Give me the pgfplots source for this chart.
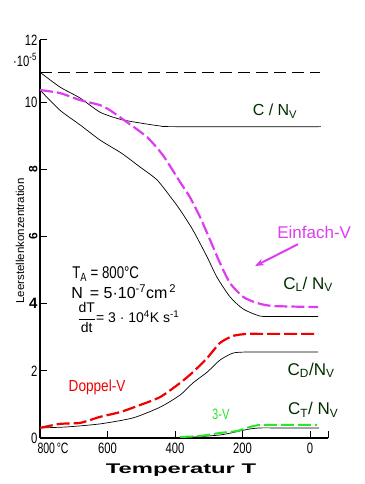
\documentclass[border=0pt]{standalone}
\usepackage{fontspec}
\setmainfont{Liberation Sans}
\usepackage{graphicx}
\usepackage{pgfplots}
\pgfplotsset{compat=1.18}
\usetikzlibrary{arrows.meta}
\definecolor{magv}{RGB}{222,60,240}
\definecolor{redv}{RGB}{240,0,0}
\definecolor{grnv}{RGB}{40,230,40}
\definecolor{dkg}{RGB}{0,45,0}
\newcommand{\nx}[1]{\scalebox{0.75}[1]{#1}}
\begin{document}
\begin{tikzpicture}
\useasboundingbox (-40pt,-46pt) rectangle (324pt,438pt);
\begin{axis}[
  at={(0pt,0pt)}, anchor=south west,
  width=288pt, height=398pt, scale only axis,
  x dir=reverse,
  xmin=-53, xmax=800, ymin=0, ymax=11.85,
  axis x line*=bottom, axis y line*=left,
  axis line style={-, line width=1.6pt},
  tick align=inside, major tick length=7pt,
  tick style={line width=1pt, black},
  xtick={-53,0,200,400,600},
  xticklabels={,\nx{0},\nx{200},\nx{400},\nx{600}},
  extra x ticks={800},
  extra x tick labels={\scalebox{0.7}[1]{800\,°C}},
  extra x tick style={xticklabel style={anchor=north west, xshift=-6pt}},
  xticklabel style={font=\fontsize{15}{15}\selectfont, yshift=-1pt},
  ytick={0,2,4,6,8,10,11.85},
  yticklabels={\nx{0},\nx{2},\textbf{4},\rotatebox{90}{\fontsize{12}{12}\selectfont\textbf{6}},\rotatebox{90}{\fontsize{12}{12}\selectfont\textbf{8}},\nx{10},\nx{12}},
  yticklabel style={font=\fontsize{15}{15}\selectfont, xshift=1pt},
  clip=false,
]
% reference dashed line
\addplot[black, line width=0.7pt, dash pattern=on 12pt off 6pt] coordinates {(800,10.88) (-30,10.88)};
% C / N_V
\addplot[black, line width=0.7pt, smooth, tension=0.4] coordinates {(800,10.89) (741,10.45) (681,10.12) (622,9.70) (563,9.49) (504,9.38) (444,9.29) (400,9.27) (-32,9.27)};
% C_L / N_V
\addplot[black, line width=0.7pt, smooth, tension=0.4] coordinates {(800,10.36) (741,9.76) (681,9.32) (622,8.87) (563,8.51) (542,8.36) (504,8.07) (453,7.68) (406,7.08) (385,6.79) (347,6.19) (305,5.39) (276,4.79) (237,4.20) (198,3.84) (148,3.63) (100,3.62) (-24,3.62)};
% Einfach-V
\addplot[magv, line width=2.2pt, dash pattern=on 13pt off 4pt, smooth, tension=0.4] coordinates {(800,10.36) (741,10.27) (681,10.06) (622,9.91) (593,9.76) (542,9.40) (483,8.96) (436,8.42) (385,7.62) (356,7.17) (326,6.58) (296,5.89) (267,5.21) (237,4.61) (198,4.20) (157,4.02) (110,3.93) (-24,3.90)};
% C_D / N_V
\addplot[black, line width=0.7pt, smooth, tension=0.4] coordinates {(800,0.30) (720,0.33) (622,0.42) (524,0.60) (444,0.92) (385,1.28) (347,1.64) (305,1.96) (267,2.32) (228,2.53) (187,2.56) (140,2.56) (-24,2.56)};
% Doppel-V
\addplot[redv, line width=2.2pt, dash pattern=on 13pt off 4pt, smooth, tension=0.4] coordinates {(800,0.30) (741,0.42) (681,0.45) (622,0.63) (563,0.77) (504,0.98) (444,1.22) (385,1.64) (347,1.96) (305,2.38) (267,2.83) (228,3.04) (187,3.10) (140,3.10) (-24,3.10)};
% C_T / N_V
\addplot[black, line width=0.7pt, smooth, tension=0.4] coordinates {(385,0.0) (267,0.09) (208,0.21) (178,0.27) (148,0.30) (100,0.30) (-27,0.30)};
% 3-V
\addplot[grnv, line width=2pt, dash pattern=on 13pt off 4pt, smooth, tension=0.4] coordinates {(385,0.03) (326,0.06) (267,0.15) (216,0.21) (178,0.33) (148,0.39) (100,0.39) (-21,0.39)};

\node[text=dkg, font=\fontsize{16}{16}\selectfont] at (axis cs:104,9.73) {C / N\textsubscript{V}};
\node[text=dkg, font=\fontsize{17}{17}\selectfont] at (axis cs:6,4.58) {C\textsubscript{L}/ N\textsubscript{V}};
\node[text=dkg, font=\fontsize{17}{17}\selectfont] at (axis cs:-3,2.02) {C\textsubscript{D}/N\textsubscript{V}};
\node[text=dkg, font=\fontsize{17}{17}\selectfont] at (axis cs:-9,0.83) {C\textsubscript{T}/ N\textsubscript{V}};
\node[text=magv, font=\fontsize{17}{17}\selectfont] at (axis cs:-12,6.13) {Einfach-V};
\draw[magv, line width=2pt, -{Stealth[length=9pt,width=7pt]}] (axis cs:36,5.77) -- (axis cs:163,5.12);
\node[text=redv, font=\fontsize{16}{16}\selectfont] at (axis cs:631,1.52) {\scalebox{0.85}[1]{Doppel-V}};
\node[text=grnv, font=\fontsize{15}{15}\selectfont] at (axis cs:264,0.71) {\scalebox{0.75}[1]{3-V}};
\node[anchor=west, font=\fontsize{17}{17}\selectfont, inner sep=0pt] at (axis cs:705,4.88) {\scalebox{0.78}[1]{T\textsubscript{A} = 800°C}};
\node[anchor=west, font=\fontsize{16}{16}\selectfont, inner sep=0pt] at (axis cs:708,4.36) {N\, = 5·10\textsuperscript{-7}cm\textsuperscript{\,2}};
\node[anchor=west, font=\fontsize{14}{14}\selectfont, inner sep=0pt] at (axis cs:690,3.58) {$\displaystyle\frac{\mbox{dT}}{\mbox{dt}}$= 3 · 10\textsuperscript{4}K s\textsuperscript{-1}};
\end{axis}
\node[rotate=90, font=\fontsize{11.5}{11.5}\selectfont] at (-20pt,197pt) {Leerstellenkonzentration};
\node[font=\fontsize{14}{14}\selectfont\bfseries] at (141pt,-32pt) {\scalebox{1.7}[1]{Temperatur T}};
\node[font=\fontsize{15}{15}\selectfont, inner sep=1pt] at (-15pt,378pt) {\scalebox{0.75}[1]{·10\textsuperscript{-5}}};
\end{tikzpicture}
\end{document}
